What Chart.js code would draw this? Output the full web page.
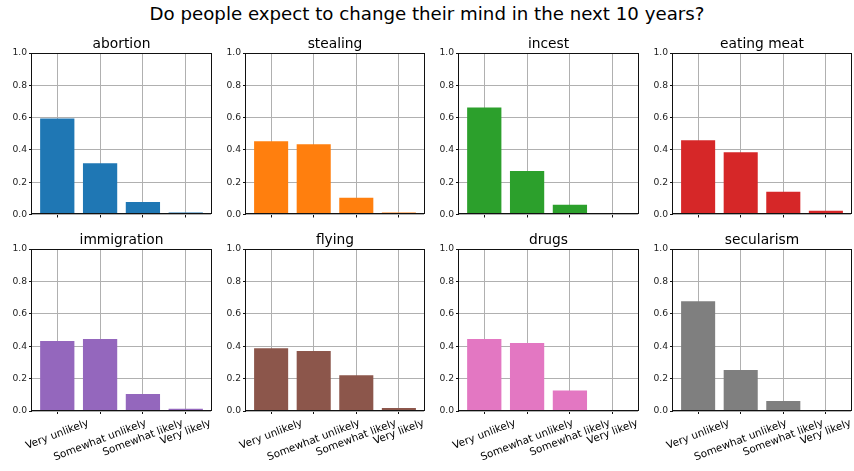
<!DOCTYPE html>
<html>
<head>
<meta charset="utf-8">
<script src="https://cdn.jsdelivr.net/npm/chart.js@4"></script>
<style>
    html, body { margin: 0; padding: 0; background: #fff; overflow: hidden; }
    #page { position: relative; width: 854px; height: 471px; }
    #suptitle {
        position: absolute; left: 0; top: 3px; width: 854px;
        text-align: center; font: 18.2px 'DejaVu Sans', sans-serif; line-height: 22px; color: #000;
    }
    canvas { position: absolute; }
</style>
</head>
<body>
<div id="page">
    <div id="suptitle">Do people expect to change their mind in the next 10 years?</div>
</div>
<script>
const categories = ['Very unlikely', 'Somewhat unlikely', 'Somewhat likely', 'Very likely'];
const topics = ['abortion', 'stealing', 'incest', 'eating meat', 'immigration', 'flying', 'drugs', 'secularism'];

const abortion = [0.595, 0.318, 0.078, 0.012];
const stealing = [0.454, 0.435, 0.103, 0.012];
const incest = [0.663, 0.269, 0.060, 0.004];
const eatingMeat = [0.460, 0.386, 0.140, 0.023];
const immigration = [0.432, 0.444, 0.105, 0.014];
const flying = [0.387, 0.370, 0.220, 0.019];
const drugs = [0.444, 0.420, 0.126, 0.006];
const secularism = [0.677, 0.253, 0.062, 0.002];

const seriesValues = [abortion, stealing, incest, eatingMeat, immigration, flying, drugs, secularism];
const barColors = ['#1f77b4', '#ff7f0e', '#2ca02c', '#d62728', '#9467bd', '#8c564b', '#e377c2', '#7f7f7f'];
const yTicks = [0, 0.2, 0.4, 0.6, 0.8, 1.0];

// axes boxes on the page (2 rows x 4 columns)
const colLeft = [32, 246, 459, 673];
const colRight = [211, 424, 638, 851];
const rowTop = [53, 249];
const rowBottom = [216, 411];

const Y_AXIS_W = 32;
const TITLE_H = 17;
const RIGHT_PAD = 6;
const LABEL_ROT = 21 * Math.PI / 180;
const LABEL_SIZE = 10.4;

Chart.defaults.font.family = "'DejaVu Sans', sans-serif";
Chart.defaults.color = '#000';

// full box around the plot area, drawn over the bars
const frame = {
    id: 'frame',
    afterDatasetsDraw(chart) {
        const a = chart.chartArea;
        const ctx = chart.ctx;
        ctx.save();
        ctx.strokeStyle = '#111';
        ctx.lineWidth = 1;
        ctx.strokeRect(Math.round(a.left) - 0.5, Math.round(a.top) + 0.5,
            Math.round(a.right - a.left) + 1, Math.round(a.bottom - a.top) - 1);
        ctx.restore();
    }
};

// rotated category labels, centred under each tick
const rotatedLabels = {
    id: 'rotatedLabels',
    afterDraw(chart, args, opts) {
        if (!opts.show) return;
        const ctx = chart.ctx;
        const xs = chart.scales.x;
        const top = chart.chartArea.bottom + 6;
        ctx.save();
        ctx.font = LABEL_SIZE + "px 'DejaVu Sans', sans-serif";
        ctx.fillStyle = '#000';
        ctx.textAlign = 'center';
        ctx.textBaseline = 'middle';
        categories.forEach((label, i) => {
            const w = ctx.measureText(label).width;
            const h = LABEL_SIZE * 1.164;
            const boxH = w * Math.sin(LABEL_ROT) + h * Math.cos(LABEL_ROT);
            ctx.save();
            ctx.translate(xs.getPixelForValue(i), top + boxH / 2);
            ctx.rotate(-LABEL_ROT);
            ctx.fillText(label, 0, 0);
            ctx.restore();
        });
        ctx.restore();
    }
};

function makePanel(idx) {
    const row = Math.floor(idx / 4);
    const col = idx % 4;
    const L = colLeft[col], R = colRight[col];
    const T = rowTop[row], B = rowBottom[row];
    const xAxisH = row === 0 ? 6 : 60;

    const canvas = document.createElement('canvas');
    const w = (R - L) + Y_AXIS_W + RIGHT_PAD;
    const h = TITLE_H + (B - T) + xAxisH;
    canvas.width = w;
    canvas.height = h;
    canvas.style.left = (L - Y_AXIS_W) + 'px';
    canvas.style.top = (T - TITLE_H) + 'px';
    canvas.style.width = w + 'px';
    canvas.style.height = h + 'px';
    document.getElementById('page').appendChild(canvas);

    new Chart(canvas, {
        type: 'bar',
        data: {
            datasets: [{
                data: seriesValues[idx].map((v, i) => ({ x: i, y: v })),
                backgroundColor: barColors[idx],
                categoryPercentage: 0.8,
                barPercentage: 1.0
            }]
        },
        options: {
            responsive: false,
            animation: false,
            layout: { padding: { left: 0, right: RIGHT_PAD, top: 0, bottom: 0 } },
            plugins: {
                legend: { display: false },
                tooltip: { enabled: false },
                title: {
                    display: true,
                    text: topics[idx],
                    fullSize: false,
                    color: '#000',
                    font: { size: 13.8, weight: 'normal', lineHeight: '16px' },
                    padding: { top: 0, bottom: 1 }
                },
                rotatedLabels: { show: row === 1 }
            },
            scales: {
                x: {
                    type: 'linear',
                    offset: false,
                    min: -0.59,
                    max: 3.59,
                    afterBuildTicks: (scale) => {
                        scale.ticks = categories.map((c, i) => ({ value: i }));
                    },
                    afterFit: (scale) => { scale.height = xAxisH; },
                    ticks: { display: false },
                    grid: { color: '#b0b0b0', lineWidth: 1, offset: false, drawTicks: true, tickLength: 3, tickColor: '#111' },
                    border: { display: false }
                },
                y: {
                    min: 0,
                    max: 1,
                    afterBuildTicks: (scale) => {
                        scale.ticks = yTicks.map(v => ({ value: v }));
                    },
                    afterFit: (scale) => { scale.width = Y_AXIS_W; },
                    ticks: {
                        padding: 2,
                        color: '#222',
                        font: { size: 9.2 },
                        callback: (v) => Number(v).toFixed(1)
                    },
                    grid: { color: '#b0b0b0', lineWidth: 1, drawTicks: true, tickLength: 3, tickColor: '#111' },
                    border: { display: false }
                }
            }
        },
        plugins: [frame, rotatedLabels]
    });
}

for (let i = 0; i < topics.length; i++) {
    makePanel(i);
}
</script>
</body>
</html>
